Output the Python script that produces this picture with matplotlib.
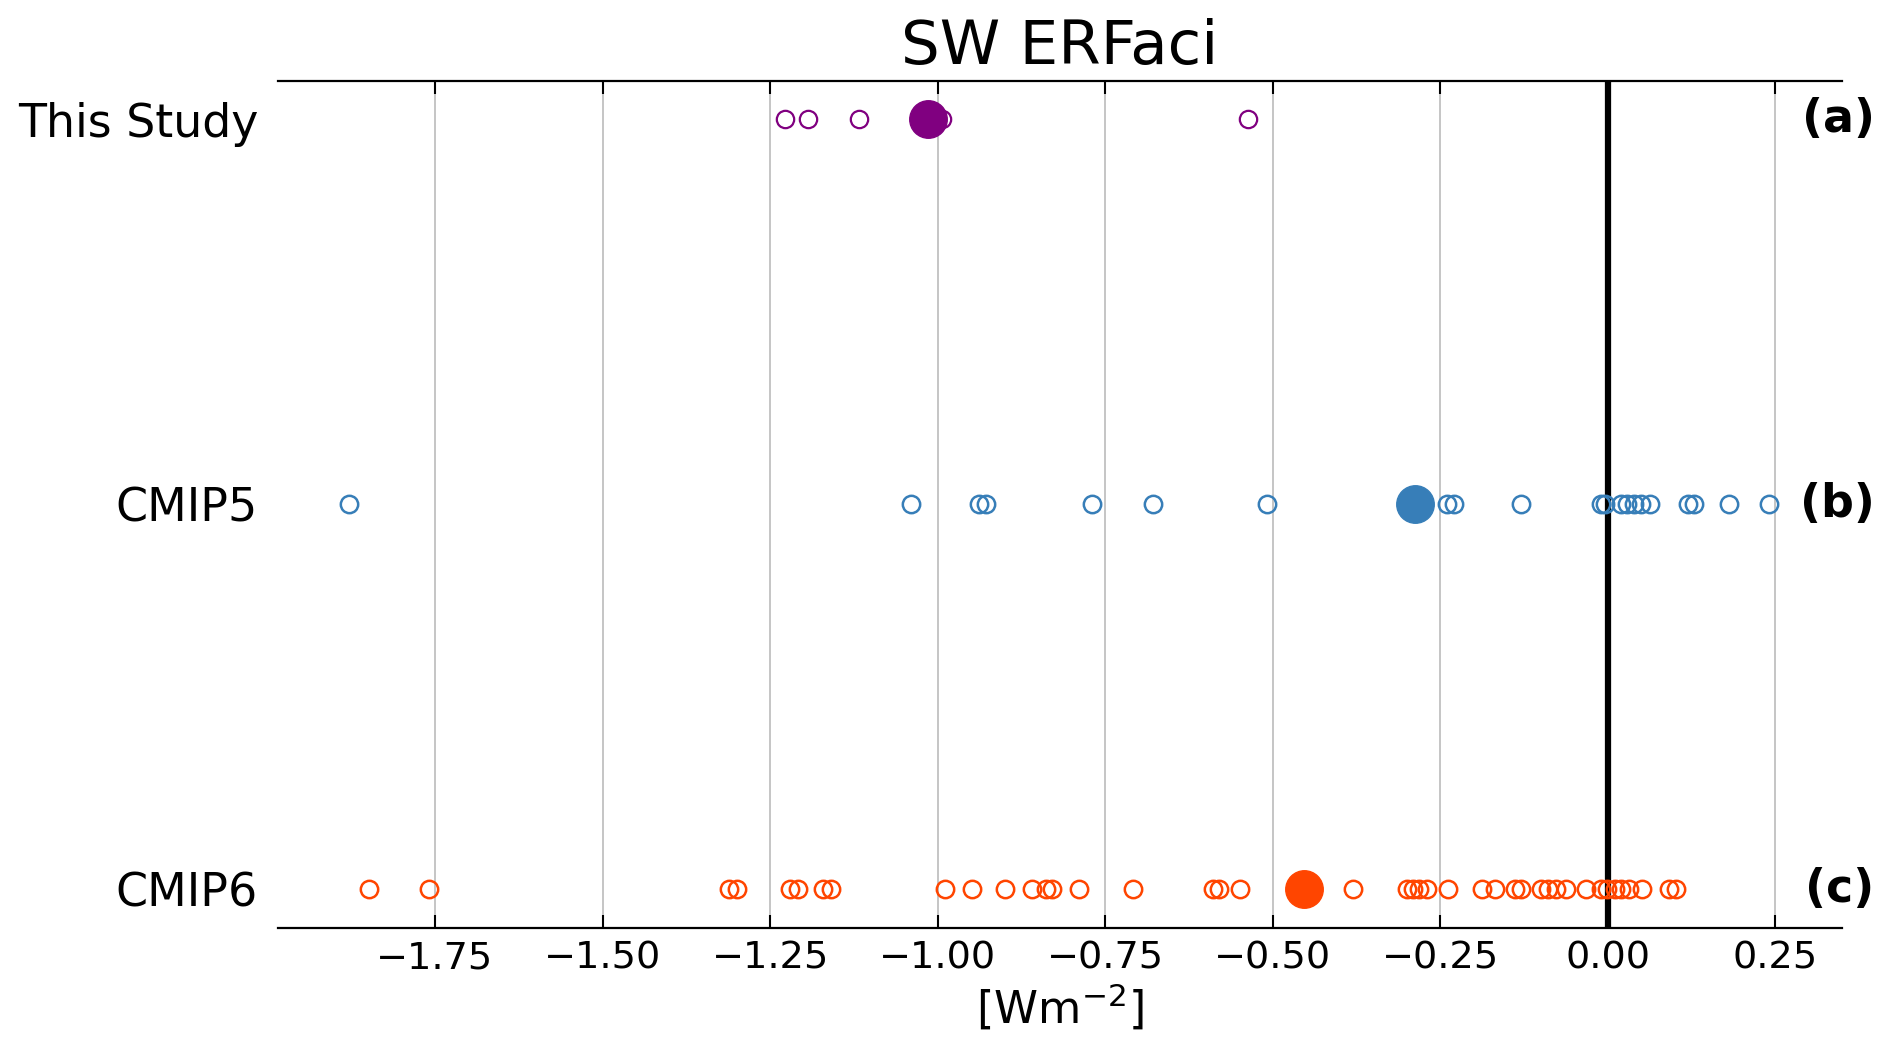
import matplotlib
matplotlib.use("Agg")
import matplotlib.pyplot as plt
import matplotlib.transforms as mtransforms

# ---- data ----
rows = ["CMIP6", "CMIP5", "This Study"]
panel_labels = ["(c)", "(b)", "(a)"]

this_study = [-1.228, -1.194, -1.117, -0.994, -0.537]
this_study_mean = [-1.014]

cmip5 = [-1.879, -1.040, -0.938, -0.928, -0.769, -0.679, -0.509, -0.240, -0.229,
         -0.129, -0.010, -0.004, 0.019, 0.029, 0.039, 0.049, 0.063, 0.119, 0.129,
         0.181, 0.241]
cmip5_mean = [-0.288]

cmip6 = [-1.848, -1.759, -1.311, -1.299, -1.221, -1.208, -1.171, -1.159, -0.989,
         -0.949, -0.899, -0.860, -0.839, -0.829, -0.789, -0.709, -0.589, -0.580,
         -0.549, -0.380, -0.300, -0.291, -0.282, -0.270, -0.238, -0.188, -0.168,
         -0.139, -0.129, -0.100, -0.090, -0.077, -0.063, -0.033, -0.010, -0.001,
         0.011, 0.020, 0.032, 0.051, 0.091, 0.102]
cmip6_mean = [-0.453]

xticks = [-1.75, -1.50, -1.25, -1.00, -0.75, -0.50, -0.25, 0.00, 0.25]

# ---- figure ----
fig = plt.figure(figsize=(18.92, 10.51), dpi=100)
ax = fig.add_axes([0.1467, 0.1171, 0.9738 - 0.1467, 0.9231 - 0.1171])

series = [
    (cmip6, cmip6_mean, 0, "#ff4500", 1.8),
    (cmip5, cmip5_mean, 1, "#377eb8", 1.8),
    (this_study, this_study_mean, 2, "#800080", 1.6),
]
for vals, mean, ypos, col, mew in series:
    ax.plot(vals, [ypos] * len(vals), linestyle="none", marker="o", ms=12.5,
            mfc="none", mec=col, mew=mew, zorder=3)
    ax.plot(mean, [ypos] * len(mean), linestyle="none", marker="o", ms=27,
            mfc=col, mec=col, zorder=4)

ax.axvline(0, color="black", lw=4.5, zorder=2)

ax.set_xlim(-1.985, 0.35)
ax.set_ylim(-0.1, 2.1)
ax.set_xticks(xticks)
ax.set_xticklabels([f"{t:.2f}".replace("-", "\u2212") for t in xticks])
ax.set_yticks([0, 1, 2])
ax.set_yticklabels(rows)
ax.grid(axis="x", color="#c0c0c0", lw=1.3, zorder=0)
ax.set_axisbelow(True)

for s in ("left", "right"):
    ax.spines[s].set_visible(False)
for s in ("top", "bottom"):
    ax.spines[s].set_linewidth(1.6)

ax.tick_params(axis="x", direction="in", top=True, bottom=True, length=9.5,
               width=1.5, labelsize=27.5, pad=9)
ax.tick_params(axis="y", length=0, labelsize=33, pad=14)

ax.set_xlabel("[Wm$^{-2}$]", fontsize=32, labelpad=4)
ax.set_title("SW ERFaci", fontsize=44, pad=12)

trans = mtransforms.blended_transform_factory(ax.transAxes, ax.transData)
for ypos, lab in enumerate(panel_labels):
    ax.text(1.0205, ypos, lab, transform=trans, ha="right", va="center",
            fontsize=33, fontweight="bold")

fig.savefig("out.png", dpi=100)
